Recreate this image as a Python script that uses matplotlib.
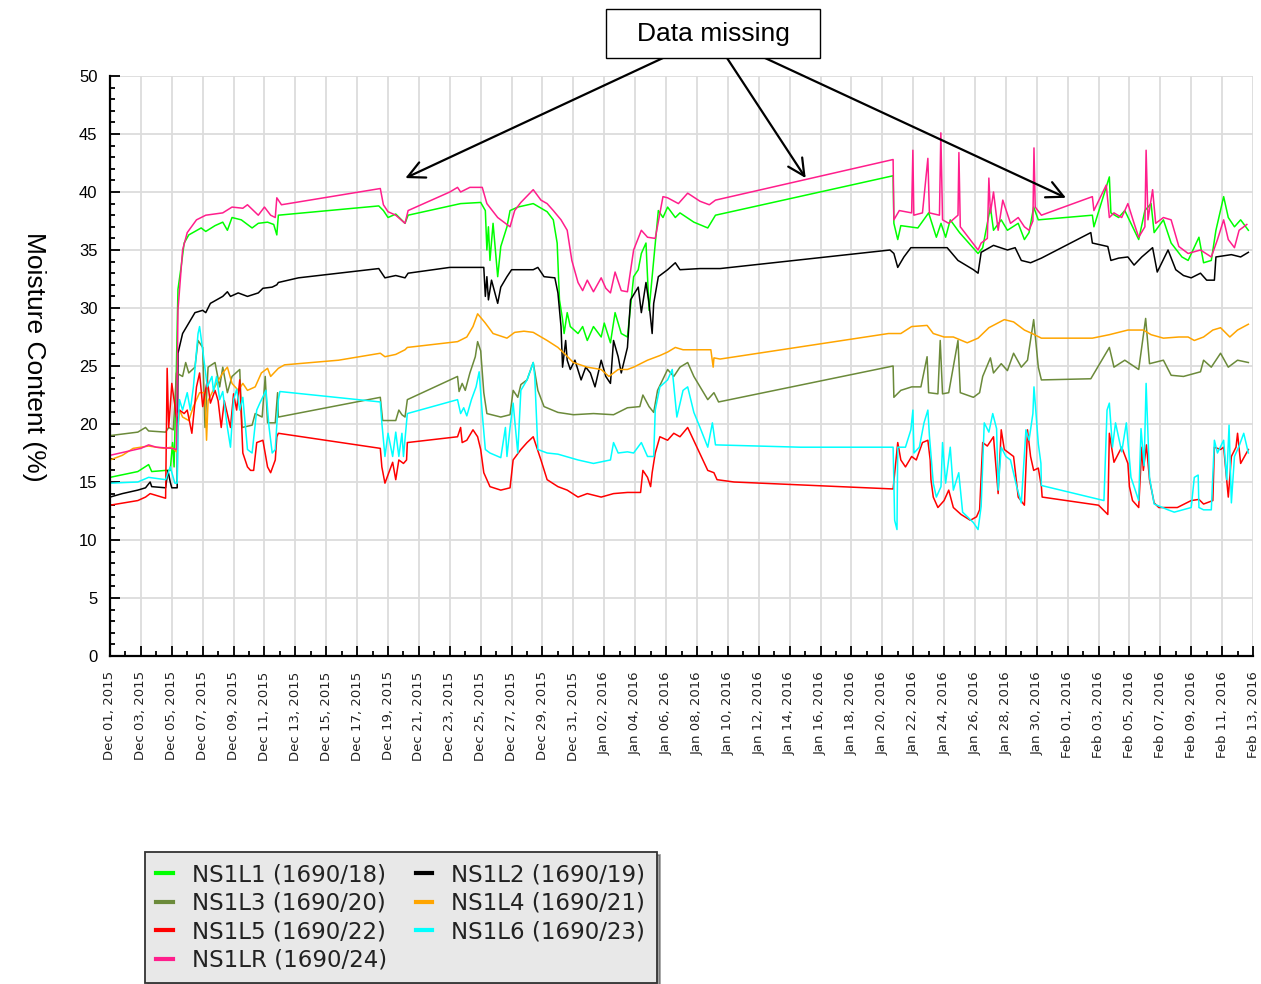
import numpy as np
import matplotlib
matplotlib.use("Agg")
import matplotlib.pyplot as plt
import matplotlib.dates as mdates
from matplotlib.lines import Line2D
from matplotlib.patches import Rectangle

# readings as (days after 2015-12-01 00:00, moisture %)
start = np.datetime64("2015-12-01T00:00")

l1 = [(0.0, 15.4), (1.8, 15.9), (2.5, 16.5), (2.7, 15.9), (3.6, 16.0), (3.9, 16.0), (4.05, 18.4), (4.15, 16.3),
      (4.3, 25.0), (4.4, 31.6), (4.6, 33.5), (4.8, 35.6), (5.1, 36.3), (5.9, 36.9), (6.2, 36.6), (6.8, 37.1),
      (7.3, 37.4), (7.6, 36.7), (7.9, 37.8), (8.5, 37.6), (9.2, 36.9), (9.6, 37.3), (10.2, 37.4), (10.6, 37.2),
      (10.8, 36.3), (10.9, 38.0), (17.4, 38.8), (17.7, 38.4), (18.0, 37.8), (18.5, 38.1), (19.1, 37.3), (19.3, 38.0),
      (22.7, 39.0), (24.0, 39.1), (24.3, 38.4), (24.4, 35.0), (24.5, 37.0), (24.6, 34.1), (24.8, 37.3), (25.1, 32.7),
      (25.3, 35.3), (25.7, 37.0), (25.9, 38.4), (26.4, 38.7), (27.4, 39.0), (28.3, 38.3), (28.7, 37.6), (28.95, 35.6),
      (29.1, 30.7), (29.3, 29.0), (29.4, 27.8), (29.6, 29.6), (29.8, 28.4), (30.3, 27.8), (30.6, 28.4), (30.9, 27.2),
      (31.3, 28.4), (31.8, 27.5), (32.0, 28.7), (32.4, 27.0), (32.7, 29.6), (33.1, 27.8), (33.5, 27.5), (33.7, 30.1),
      (33.9, 32.7), (34.2, 33.3), (34.4, 34.7), (34.7, 35.6), (34.9, 29.8), (35.1, 32.7), (35.5, 38.4), (35.8, 37.8),
      (36.1, 38.7), (36.6, 37.8), (36.9, 38.2), (37.8, 37.4), (38.7, 36.9), (39.2, 38.0), (50.7, 41.4), (50.75, 37.3),
      (51.0, 35.9), (51.2, 37.1), (52.3, 36.9), (53.0, 38.2), (53.5, 36.1), (53.8, 37.3), (54.1, 36.1), (54.4, 37.6),
      (55.0, 36.5), (55.6, 35.6), (56.2, 34.7), (56.5, 35.2), (57.0, 38.7), (57.2, 36.7), (57.7, 37.6), (58.1, 36.7),
      (58.8, 37.3), (59.2, 35.9), (59.5, 36.5), (59.8, 38.7), (60.1, 37.6), (63.6, 38.0), (63.7, 37.0), (64.7, 41.3),
      (64.8, 38.2), (65.3, 37.8), (65.7, 38.4), (66.6, 35.9), (67.0, 38.4), (67.4, 39.0), (67.6, 36.5), (68.2, 37.6),
      (68.7, 35.6), (69.4, 34.4), (69.8, 34.1), (70.5, 36.1), (70.8, 33.9), (71.3, 34.1), (71.6, 36.7), (72.1, 39.6),
      (72.4, 37.8), (72.8, 37.0), (73.2, 37.6), (73.7, 36.7)]

l2 = [(0.0, 13.7), (0.8, 14.0), (1.8, 14.3), (2.3, 14.5), (2.6, 15.0), (2.7, 14.6), (3.6, 14.5), (3.75, 16.0),
      (3.9, 15.0), (4.0, 14.5), (4.35, 14.5), (4.4, 26.1), (4.7, 27.8), (5.1, 28.7), (5.5, 29.6), (6.0, 29.8),
      (6.2, 29.6), (6.5, 30.4), (7.3, 31.0), (7.6, 31.4), (7.8, 31.0), (8.3, 31.3), (8.9, 31.0), (9.6, 31.3),
      (9.9, 31.7), (10.5, 31.8), (10.8, 32.0), (10.9, 32.2), (12.2, 32.6), (14.8, 33.0), (17.4, 33.4), (17.8, 32.6),
      (18.5, 32.8), (19.1, 32.6), (19.3, 33.0), (22.0, 33.5), (24.2, 33.5), (24.3, 31.0), (24.4, 32.7), (24.5, 30.7),
      (24.7, 32.4), (25.1, 30.4), (25.3, 31.8), (25.7, 32.7), (26.0, 33.3), (26.6, 33.3), (27.4, 33.3), (27.7, 33.5),
      (28.1, 32.7), (28.8, 32.6), (29.0, 31.3), (29.2, 28.4), (29.3, 24.9), (29.5, 27.2), (29.6, 25.5), (29.8, 24.7),
      (30.1, 25.5), (30.5, 23.8), (30.8, 24.9), (31.1, 24.4), (31.4, 23.2), (31.8, 25.5), (32.1, 24.1), (32.4, 23.5),
      (32.6, 27.2), (32.9, 25.8), (33.1, 24.4), (33.3, 25.5), (33.5, 26.6), (33.7, 30.7), (34.2, 31.8), (34.4, 29.6),
      (34.7, 32.2), (34.9, 30.4), (35.1, 27.8), (35.2, 30.4), (35.5, 32.7), (36.1, 33.3), (36.6, 33.9), (36.9, 33.3),
      (38.2, 33.4), (39.5, 33.4), (50.5, 35.0), (50.75, 34.7), (51.0, 33.5), (51.4, 34.4), (51.85, 35.2), (53.1, 35.2),
      (54.2, 35.2), (54.9, 34.1), (55.9, 33.3), (56.2, 33.0), (56.4, 34.8), (57.2, 35.4), (58.1, 35.0), (58.6, 35.2),
      (59.0, 34.1), (59.6, 33.9), (60.3, 34.3), (63.5, 36.5), (63.6, 35.6), (64.6, 35.3), (64.8, 34.1), (65.3, 34.3),
      (65.9, 34.4), (66.3, 33.7), (66.8, 34.4), (67.5, 35.2), (67.8, 33.1), (68.5, 35.0), (69.0, 33.3), (69.5, 32.8),
      (70.0, 32.6), (70.6, 33.0), (71.0, 32.4), (71.5, 32.4), (71.6, 34.4), (72.6, 34.6), (73.2, 34.4), (73.7, 34.8)]

l3 = [(0.0, 19.0), (1.8, 19.3), (2.3, 19.7), (2.5, 19.4), (3.6, 19.3), (3.8, 19.7), (4.1, 19.5), (4.3, 24.4),
      (4.7, 24.1), (4.9, 25.3), (5.1, 24.4), (5.5, 24.9), (5.7, 27.2), (6.0, 26.6), (6.15, 19.7), (6.35, 24.9),
      (6.8, 25.3), (7.1, 23.2), (7.3, 24.9), (7.6, 22.7), (7.9, 24.1), (8.4, 24.7), (8.55, 19.7), (9.2, 19.9),
      (9.4, 20.9), (9.85, 20.6), (10.05, 24.1), (10.2, 20.1), (10.7, 20.1), (10.85, 22.7), (10.9, 20.6), (17.5, 22.3),
      (17.65, 20.3), (18.5, 20.3), (18.7, 21.2), (18.9, 20.8), (19.1, 20.6), (19.25, 22.1), (22.5, 24.1), (22.6, 22.8),
      (22.8, 23.5), (23.0, 22.9), (23.3, 24.4), (23.65, 25.8), (23.8, 27.1), (24.0, 26.3), (24.2, 22.7), (24.4, 20.9),
      (25.3, 20.6), (25.9, 20.8), (26.1, 22.9), (26.4, 22.3), (26.6, 23.4), (27.0, 23.8), (27.4, 25.3), (27.7, 22.9),
      (28.1, 21.5), (29.0, 21.0), (30.0, 20.8), (31.3, 20.9), (32.6, 20.8), (33.5, 21.4), (34.3, 21.5), (34.5, 22.5),
      (34.9, 21.5), (35.2, 21.0), (35.45, 22.9), (36.1, 24.7), (36.5, 24.1), (36.9, 24.9), (37.4, 25.3), (37.8, 24.1),
      (38.7, 22.1), (39.1, 22.7), (39.4, 21.9), (50.7, 25.0), (50.75, 22.3), (51.2, 22.9), (51.9, 23.2), (52.5, 23.2),
      (52.9, 25.8), (53.0, 22.7), (53.6, 22.6), (53.75, 27.2), (53.9, 22.6), (54.3, 22.7), (54.9, 27.2), (55.05, 22.7),
      (55.9, 22.3), (56.3, 22.7), (56.5, 24.1), (57.0, 25.7), (57.2, 24.4), (57.7, 25.2), (58.1, 24.6), (58.5, 26.1),
      (59.0, 24.9), (59.4, 25.5), (59.8, 29.0), (60.1, 24.9), (60.3, 23.8), (63.5, 23.9), (64.7, 26.6), (65.0, 24.9),
      (65.7, 25.5), (66.6, 24.7), (67.05, 29.1), (67.3, 25.2), (68.2, 25.5), (68.7, 24.2), (69.5, 24.1), (70.6, 24.5),
      (70.8, 25.5), (71.3, 24.9), (71.9, 26.1), (72.4, 24.9), (73.0, 25.5), (73.7, 25.3)]

l4 = [(0.0, 16.9), (0.8, 17.3), (1.5, 17.9), (2.5, 18.1), (3.5, 17.9), (4.0, 18.0), (4.3, 17.6), (4.5, 21.2),
      (4.7, 20.6), (5.1, 20.3), (5.4, 21.5), (5.8, 22.7), (6.15, 22.7), (6.25, 18.6), (6.35, 22.0), (6.9, 23.5),
      (7.3, 24.4), (7.6, 24.9), (7.9, 23.5), (8.3, 22.9), (8.6, 23.5), (8.9, 22.9), (9.4, 23.2), (9.8, 24.4),
      (10.2, 24.8), (10.4, 24.1), (10.9, 24.8), (11.3, 25.1), (14.8, 25.5), (17.5, 26.1), (17.8, 25.8), (18.5, 26.0),
      (19.1, 26.4), (19.25, 26.6), (22.5, 27.1), (23.1, 27.5), (23.5, 28.4), (23.8, 29.5), (24.3, 28.7), (24.8, 27.8),
      (25.7, 27.4), (26.2, 27.9), (26.8, 28.0), (27.4, 27.9), (28.3, 27.2), (29.0, 26.6), (29.4, 26.1), (30.0, 25.3),
      (30.9, 24.9), (31.8, 24.7), (32.3, 24.1), (32.9, 24.7), (33.5, 24.7), (33.9, 24.9), (34.8, 25.5), (35.6, 25.9),
      (36.1, 26.2), (36.6, 26.6), (37.1, 26.4), (38.2, 26.4), (38.9, 26.4), (39.05, 24.9), (39.1, 25.7), (39.5, 25.6),
      (50.4, 27.8), (51.2, 27.8), (51.9, 28.4), (52.9, 28.5), (53.3, 27.8), (54.0, 27.5), (54.6, 27.5), (55.5, 27.0),
      (56.2, 27.4), (56.9, 28.3), (57.9, 29.0), (58.5, 28.8), (59.2, 28.1), (59.7, 27.8), (60.3, 27.4), (63.6, 27.4),
      (64.7, 27.7), (65.9, 28.1), (66.9, 28.1), (67.4, 27.7), (68.2, 27.4), (69.2, 27.5), (69.8, 27.5), (70.2, 27.2),
      (70.8, 27.5), (71.4, 28.1), (71.9, 28.3), (72.5, 27.5), (73.0, 28.1), (73.7, 28.6)]

l5 = [(0.0, 13.0), (1.8, 13.4), (2.3, 13.7), (2.6, 14.0), (3.6, 13.6), (3.7, 24.8), (3.8, 19.7), (3.9, 21.5),
      (4.0, 23.5), (4.3, 20.6), (4.5, 21.2), (4.8, 20.9), (5.0, 21.2), (5.3, 19.2), (5.6, 23.2), (5.8, 24.4),
      (6.0, 21.5), (6.3, 23.8), (6.5, 21.8), (6.8, 22.9), (7.0, 22.0), (7.2, 19.7), (7.4, 22.0), (7.8, 19.7),
      (8.0, 22.6), (8.2, 21.2), (8.4, 23.8), (8.6, 17.5), (8.9, 16.3), (9.1, 16.0), (9.3, 16.0), (9.5, 18.4),
      (9.9, 18.6), (10.2, 16.3), (10.4, 15.8), (10.7, 16.9), (10.8, 18.9), (10.9, 19.2), (17.5, 17.9), (17.6, 16.3),
      (17.8, 14.9), (18.3, 16.7), (18.5, 15.2), (18.7, 16.9), (19.0, 16.6), (19.2, 16.9), (19.25, 18.4), (22.5, 18.9),
      (22.7, 19.7), (22.8, 18.4), (23.1, 18.6), (23.5, 19.5), (23.8, 18.9), (24.0, 17.8), (24.2, 15.8), (24.6, 14.6),
      (25.3, 14.3), (25.9, 14.5), (26.1, 16.9), (26.6, 17.8), (27.0, 18.4), (27.4, 18.9), (27.9, 16.9), (28.3, 15.2),
      (29.0, 14.6), (29.6, 14.3), (30.3, 13.7), (30.9, 14.0), (31.8, 13.7), (32.6, 14.0), (33.5, 14.1), (34.35, 14.1),
      (34.5, 16.0), (34.8, 15.4), (35.0, 14.6), (35.1, 15.8), (35.3, 17.5), (35.6, 18.9), (36.1, 18.6), (36.5, 19.2),
      (36.9, 18.9), (37.4, 19.7), (38.0, 18.0), (38.7, 16.0), (39.1, 15.8), (39.3, 15.2), (40.4, 15.0), (50.7, 14.4),
      (51.0, 18.4), (51.2, 16.9), (51.5, 16.3), (51.9, 17.2), (52.2, 16.9), (52.6, 18.4), (52.95, 18.6), (53.1, 16.9),
      (53.15, 15.2), (53.3, 13.7), (53.6, 12.8), (54.0, 13.4), (54.3, 14.3), (54.6, 12.8), (55.1, 12.2), (55.7, 11.7),
      (56.1, 12.0), (56.3, 12.6), (56.5, 18.4), (56.8, 18.1), (57.2, 18.9), (57.5, 14.0), (57.7, 19.5), (57.9, 17.8),
      (58.5, 17.2), (58.8, 13.7), (59.2, 13.0), (59.4, 19.5), (59.6, 17.2), (59.8, 16.0), (60.1, 16.2), (60.3, 14.6),
      (60.35, 13.7), (64.0, 13.0), (64.6, 12.2), (64.7, 19.2), (65.0, 16.7), (65.5, 18.0), (65.9, 16.6), (66.0, 14.6),
      (66.2, 13.4), (66.6, 12.8), (66.8, 18.0), (66.9, 16.0), (67.1, 18.2), (67.3, 15.2), (67.6, 13.2), (67.9, 12.8),
      (68.5, 12.8), (69.1, 12.8), (70.0, 13.4), (70.5, 13.5), (70.8, 13.1), (71.4, 13.4), (71.5, 18.0), (71.9, 17.8),
      (72.1, 18.0), (72.3, 15.2), (72.4, 13.7), (72.6, 17.2), (72.9, 18.0), (73.0, 19.2), (73.2, 16.6), (73.7, 17.8)]

l6 = [(0.0, 14.9), (1.8, 15.0), (2.5, 15.4), (3.6, 15.2), (3.9, 16.3), (4.2, 14.9), (4.35, 14.9), (4.4, 19.7),
      (4.5, 22.1), (4.7, 21.2), (5.0, 22.7), (5.2, 21.2), (5.4, 23.2), (5.7, 27.8), (5.8, 28.4), (6.0, 26.4),
      (6.3, 23.2), (6.6, 24.1), (6.7, 22.8), (6.9, 24.1), (7.1, 22.1), (7.3, 22.8), (7.6, 19.7), (7.8, 18.0),
      (8.0, 22.1), (8.2, 23.0), (8.4, 21.2), (8.6, 22.3), (8.9, 17.8), (9.2, 17.5), (9.5, 21.2), (9.7, 21.8),
      (10.1, 22.9), (10.3, 19.7), (10.5, 17.5), (10.7, 17.8), (10.9, 22.1), (11.0, 22.8), (17.5, 21.9), (17.6, 20.1),
      (17.8, 17.2), (18.0, 19.2), (18.3, 17.2), (18.5, 19.3), (18.7, 17.2), (18.9, 19.2), (19.0, 17.2), (19.25, 20.9),
      (22.5, 22.1), (22.7, 20.9), (22.9, 21.4), (23.1, 20.7), (23.4, 22.1), (23.7, 23.2), (23.9, 24.5), (24.1, 20.9),
      (24.3, 17.8), (24.6, 17.5), (25.3, 17.1), (25.6, 19.7), (25.7, 17.2), (25.9, 19.7), (26.1, 21.8), (26.4, 17.5),
      (26.6, 22.9), (27.0, 23.8), (27.4, 25.3), (27.5, 24.1), (27.7, 17.8), (28.3, 17.5), (29.0, 17.4), (30.3, 16.9),
      (31.3, 16.6), (32.4, 16.9), (32.6, 18.4), (32.9, 17.5), (33.5, 17.6), (33.9, 17.5), (34.4, 18.4), (34.8, 17.2),
      (35.2, 17.2), (35.3, 21.2), (35.6, 23.2), (36.1, 23.8), (36.4, 24.7), (36.7, 20.6), (37.1, 22.9), (37.4, 23.2),
      (37.8, 21.0), (38.2, 19.7), (38.7, 18.0), (39.0, 20.1), (39.2, 18.2), (44.7, 18.0), (50.7, 18.0), (50.8, 11.7),
      (50.95, 10.9), (51.0, 18.0), (51.5, 18.0), (51.85, 19.5), (51.98, 21.2), (52.05, 17.5), (52.4, 18.0), (52.7, 20.1),
      (52.95, 21.2), (53.05, 19.0), (53.3, 14.9), (53.5, 13.7), (53.8, 14.6), (53.9, 18.4), (54.1, 14.9), (54.4, 18.0),
      (54.6, 14.3), (54.95, 15.8), (55.2, 12.4), (55.9, 11.5), (56.2, 10.9), (56.4, 12.9), (56.6, 20.1), (56.9, 19.3),
      (57.15, 20.9), (57.4, 19.6), (57.5, 14.3), (57.7, 18.0), (58.0, 17.2), (58.3, 16.9), (58.7, 14.6), (59.0, 13.2),
      (59.3, 19.5), (59.5, 18.6), (59.75, 20.9), (59.82, 23.2), (60.1, 18.3), (60.27, 16.6), (60.3, 14.7), (64.35, 13.4),
      (64.55, 21.2), (64.7, 21.8), (64.9, 18.0), (65.1, 20.1), (65.5, 17.6), (65.8, 20.1), (66.1, 15.4), (66.6, 13.4),
      (66.75, 19.6), (66.95, 16.4), (67.08, 23.5), (67.3, 15.4), (67.6, 13.1), (68.5, 12.6), (68.9, 12.4), (70.0, 12.8),
      (70.2, 15.4), (70.45, 15.6), (70.5, 12.8), (70.8, 12.6), (71.3, 12.6), (71.5, 18.6), (71.7, 17.5), (72.1, 18.6),
      (72.3, 15.2), (72.45, 19.9), (72.6, 13.2), (72.8, 17.2), (73.1, 18.1), (73.4, 19.2), (73.7, 17.5)]

lr = [(0.0, 17.3), (1.0, 17.6), (2.0, 17.9), (2.5, 18.2), (3.0, 18.0), (4.0, 17.9), (4.3, 17.8), (4.4, 29.8),
      (4.7, 35.0), (5.0, 36.5), (5.6, 37.6), (6.2, 38.0), (7.3, 38.2), (7.9, 38.7), (8.6, 38.6), (8.9, 38.9),
      (9.6, 38.0), (10.0, 38.7), (10.4, 38.0), (10.7, 37.8), (10.8, 39.5), (11.1, 38.9), (17.5, 40.3), (17.7, 38.9),
      (18.0, 38.3), (18.5, 38.0), (19.1, 37.3), (19.3, 38.4), (22.0, 40.0), (22.5, 40.4), (22.7, 40.0), (23.3, 40.4),
      (24.1, 40.4), (24.4, 39.0), (25.1, 37.8), (25.9, 37.0), (26.2, 38.4), (26.6, 39.1), (27.4, 40.2), (27.9, 39.3),
      (28.3, 39.0), (28.7, 38.4), (29.2, 37.6), (29.6, 36.7), (29.9, 34.1), (30.3, 32.2), (30.6, 31.5), (30.9, 32.4),
      (31.3, 31.4), (31.8, 32.6), (32.1, 31.7), (32.4, 31.3), (32.7, 33.1), (33.1, 31.5), (33.5, 31.4), (33.9, 35.0),
      (34.4, 36.7), (34.8, 36.1), (35.3, 36.0), (35.8, 39.6), (36.1, 39.5), (36.8, 39.0), (37.4, 39.9), (38.2, 39.2),
      (38.8, 38.9), (39.2, 39.3), (50.7, 42.8), (50.75, 37.6), (51.1, 38.4), (51.9, 38.2), (51.98, 43.6), (52.04, 38.0),
      (52.6, 38.2), (52.95, 42.9), (53.05, 38.2), (53.7, 38.0), (53.79, 45.1), (53.9, 37.6), (54.3, 37.3), (54.9, 38.0),
      (54.96, 43.4), (55.05, 37.0), (56.2, 35.0), (56.4, 35.6), (56.8, 36.0), (56.9, 41.2), (57.0, 38.2), (57.2, 40.0),
      (57.5, 36.7), (57.8, 39.3), (58.3, 37.3), (58.8, 37.8), (59.2, 37.0), (59.5, 36.7), (59.75, 37.5), (59.82, 43.8),
      (59.9, 38.7), (60.3, 38.0), (63.6, 39.6), (63.7, 38.4), (64.5, 40.6), (64.7, 37.8), (65.0, 38.2), (65.5, 37.8),
      (65.9, 39.0), (66.3, 37.3), (66.6, 36.1), (67.0, 37.0), (67.08, 43.6), (67.2, 37.6), (67.5, 40.2), (67.7, 37.3),
      (68.2, 37.8), (68.7, 37.6), (69.2, 35.3), (69.8, 34.7), (70.6, 35.0), (71.3, 34.4), (71.7, 35.9), (72.1, 37.6),
      (72.4, 35.9), (72.8, 35.2), (73.1, 36.7), (73.6, 37.2)]

series = [
    ("NS1L1 (1690/18)", l1, "#00ff00"),
    ("NS1L2 (1690/19)", l2, "#000000"),
    ("NS1L3 (1690/20)", l3, "#6b8a3a"),
    ("NS1L4 (1690/21)", l4, "#ffa500"),
    ("NS1L5 (1690/22)", l5, "#ff0000"),
    ("NS1L6 (1690/23)", l6, "#00ffff"),
    ("NS1LR (1690/24)", lr, "#ff1e8c"),
]

# (days, value) of the gaps pointed at by the "Data missing" arrows
gaps = [(19.12, 41.2), (45.04, 41.2), (61.89, 39.5)]


def to_dates(days):
    return start + np.round(np.asarray(days) * 1440).astype("timedelta64[m]")


W, H = 1261, 984
fig = plt.figure(figsize=(W / 100, H / 100), dpi=100)
ax = fig.add_axes([110 / W, 328 / H, 1143 / W, 580 / H])

for name, data, col in series:
    d = np.array(data)
    ax.plot(to_dates(d[:, 0]), d[:, 1], color=col, lw=1.1, label=name)

ax.set_xlim(start, start + np.timedelta64(74, "D"))
ax.set_ylim(0, 50)
ax.set_xticks(to_dates(np.arange(0, 75, 2)))
ax.set_xticks(to_dates(np.arange(0, 75, 1)), minor=True)
ax.xaxis.set_major_formatter(mdates.DateFormatter("%b %d, %Y"))
ax.set_yticks(np.arange(0, 51, 5))
ax.set_yticks(np.arange(0, 51, 1), minor=True)

ax.grid(True, which="major", color="#dcdcdc", lw=1.3)
ax.set_axisbelow(True)
for s in ["top", "right"]:
    ax.spines[s].set_visible(False)
for s in ["left", "bottom"]:
    ax.spines[s].set_linewidth(1.6)

ax.tick_params(which="both", direction="in", width=1.3)
ax.tick_params(which="major", length=7)
ax.tick_params(which="minor", length=3.5)
ax.tick_params(axis="x", which="major", pad=11, labelsize=9.5, labelcolor="#222222", rotation=90)
ax.tick_params(axis="y", which="major", pad=9)
for lab in ax.get_yticklabels():
    lab.set_family("Liberation Sans")
    lab.set_fontsize(12)
for lab in ax.get_xticklabels():
    lab.set_family("DejaVu Sans")

ax.set_ylabel("Moisture Content (%)", family="Liberation Sans", fontsize=19, rotation=270)
ax.yaxis.set_label_coords(-0.077, 0.515)

# annotation box with arrows
fig.add_artist(Rectangle((606 / W, 1 - 58 / H), 214 / W, 49 / H, transform=fig.transFigure,
                         facecolor="white", edgecolor="black", lw=1.0))
fig.text(713 / W, 1 - 34 / H, "Data missing", family="Liberation Sans", fontsize=19,
         ha="center", va="center")
starts = [(663, 58), (727, 58), (765, 58)]
for (px, py), (gd, gv) in zip(starts, gaps):
    ax.annotate("", xy=(to_dates([gd])[0], gv), xycoords="data",
                xytext=(px / W, 1 - py / H), textcoords="figure fraction",
                arrowprops=dict(arrowstyle="->,head_length=0.6,head_width=0.3", lw=1.6,
                                color="black", shrinkA=0, shrinkB=0, mutation_scale=20),
                annotation_clip=False)

# legend below the plot
handles = [Line2D([], [], color=c, lw=3) for _, _, c in series]
labels = [n for n, _, _ in series]
order = [0, 2, 4, 6, 1, 3, 5]
leg = fig.legend([handles[i] for i in order], [labels[i] for i in order],
                 loc="upper left", bbox_to_anchor=(145 / W, 1 - 852 / H), bbox_transform=fig.transFigure,
                 ncol=2, frameon=True, fancybox=False, shadow=True, borderaxespad=0,
                 prop=dict(family="DejaVu Sans", size=16.5), handlelength=0.7, handletextpad=0.85,
                 columnspacing=1.25, labelspacing=0.24, borderpad=0.5)
leg.get_frame().set_facecolor("#e8e8e8")
leg.get_frame().set_edgecolor("#333333")
leg.get_frame().set_linewidth(1.3)
leg.get_frame().set_alpha(1)
for t in leg.get_texts():
    t.set_color("#222222")

fig.savefig("out.png", dpi=100)
